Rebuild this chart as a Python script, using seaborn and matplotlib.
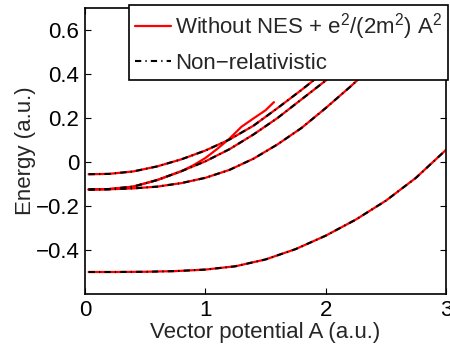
import numpy as np
import pandas as pd
import matplotlib
matplotlib.use('Agg')
import matplotlib.pyplot as plt
from matplotlib.lines import Line2D
import seaborn as sns

# ground state (n=1)
A_1s = [0.03, 0.25, 0.5, 0.75, 1.0, 1.25, 1.5, 1.75, 2.0, 2.25, 2.5, 2.75, 3.0]
E_1s = [-0.500, -0.500, -0.499, -0.496, -0.489, -0.474, -0.443, -0.396,
        -0.335, -0.262, -0.176, -0.072, 0.055]

# n=2, lower branch
A_2a = [0.03, 0.2, 0.4, 0.6, 0.8, 1.0, 1.2, 1.4, 1.6, 1.8, 2.0, 2.2, 2.4]
E_2a = [-0.125, -0.124, -0.120, -0.112, -0.096, -0.072, -0.036, 0.015,
        0.080, 0.155, 0.245, 0.340, 0.440]

# n=2, upper branch
A_2b = [0.03, 0.2, 0.4, 0.6, 0.8, 1.0, 1.2, 1.4, 1.6, 1.8, 2.0, 2.2]
E_2b = [-0.125, -0.123, -0.112, -0.082, -0.042, 0.003, 0.058, 0.125,
        0.200, 0.285, 0.370, 0.460]

# n=3
A_3 = [0.03, 0.2, 0.4, 0.6, 0.8, 1.0, 1.2, 1.4, 1.6, 1.8, 2.0]
E_3 = [-0.0556, -0.054, -0.043, -0.020, 0.012, 0.052, 0.102, 0.165,
       0.245, 0.328, 0.415]

# extra branch that only shows up without NES
A_x = [0.03, 0.2, 0.4, 0.6, 0.8, 0.9, 1.0, 1.1, 1.2, 1.3, 1.4, 1.5, 1.57]
E_x = [-0.125, -0.123, -0.112, -0.082, -0.042, -0.015, 0.018, 0.060,
       0.106, 0.160, 0.198, 0.235, 0.272]

curves = [(A_1s, E_1s), (A_2a, E_2a), (A_2b, E_2b), (A_3, E_3)]

legend_labels = [r"Without NES + e$^2$/(2m$^2$) A$^2$", "Non\u2212relativistic"]

sns.set_style("ticks")
plt.rcParams['font.family'] = ['Liberation Sans', 'DejaVu Sans']
plt.rcParams['mathtext.default'] = 'regular'
plt.rcParams['xtick.direction'] = 'in'
plt.rcParams['ytick.direction'] = 'in'
plt.rcParams['xtick.top'] = True
plt.rcParams['ytick.right'] = True

fs = 16
dashdot = (3, 2, 0.6, 2)

fig = plt.figure(figsize=(4.5, 3.51), dpi=100)
ax = fig.add_axes([85 / 450, 57 / 351, 361 / 450, 286 / 351])

red_sets = curves + [(A_x, E_x)]
for xs, ys in red_sets:
    sns.lineplot(x=xs, y=ys, ax=ax, color="red", linewidth=1.6,
                 estimator=None, sort=False)
for xs, ys in curves:
    sns.lineplot(x=xs, y=ys, ax=ax, color="black", linewidth=1.5,
                 estimator=None, sort=False)
    ax.lines[-1].set_dashes(dashdot)

ax.set_xlim(0, 3)
ax.set_ylim(-0.6, 0.7)
ax.set_xticks([0, 1, 2, 3])
ax.set_yticks([-0.4, -0.2, 0, 0.2, 0.4, 0.6])
ax.set_yticklabels(["\u22120.4", "\u22120.2", "0", "0.2", "0.4", "0.6"])
ax.tick_params(labelsize=fs, length=4, width=0.8, colors="black", pad=4)
for sp in ax.spines.values():
    sp.set_linewidth(1.2)
    sp.set_color("black")

ax.set_xlabel("Vector potential A (a.u.)", fontsize=fs, labelpad=1)
ax.set_ylabel("Energy (a.u.)", fontsize=fs, labelpad=0)

handles = [
    Line2D([], [], color="red", linewidth=1.6),
    Line2D([], [], color="black", linewidth=1.5, dashes=dashdot),
]
leg = fig.legend(handles, legend_labels, loc="upper left",
                 bbox_to_anchor=(129 / 450, 1 - 5 / 351),
                 fontsize=fs, frameon=True, fancybox=False, framealpha=1,
                 edgecolor="black", borderpad=0.28, borderaxespad=0,
                 handlelength=1.6, handletextpad=0.2, labelspacing=0.5)
leg.get_frame().set_linewidth(1.2)

fig.savefig("out.png", dpi=100)
plt.close('all')
